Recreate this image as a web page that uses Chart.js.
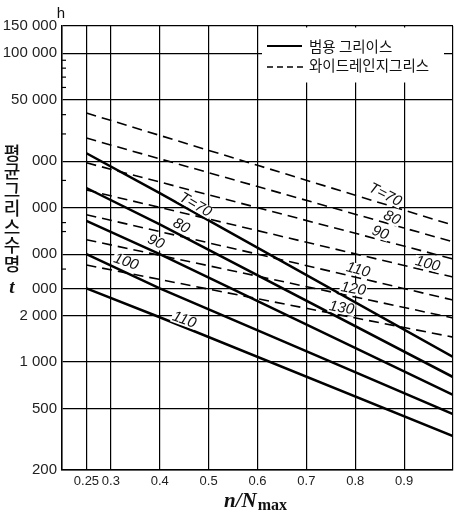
<!DOCTYPE html>
<html><head><meta charset="utf-8">
<script src="https://cdn.jsdelivr.net/npm/chart.js@4/dist/chart.umd.min.js"></script>
<style>html,body{margin:0;padding:0;background:#fff}canvas{display:block}</style>
</head><body>
<canvas id="c" width="457" height="513"></canvas>
<script>
// ---- axes ----
const xTicks = [0.25, 0.3, 0.4, 0.5, 0.6, 0.7, 0.8, 0.9, 1.0];
const xTickLabels = ['0.25', '0.3', '0.4', '0.5', '0.6', '0.7', '0.8', '0.9', ''];
const yTicks = [200, 500, 1000, 2000, 3000, 5000, 10000, 20000, 50000, 100000, 150000];
const yTickLabels = ['200', '500', '1 000', '2 000', '000', '000', '000', '000', '50 000', '100 000', '150 000'];
const yMinorTicks = [4000, 7000, 8000, 15000, 30000, 40000, 60000, 70000, 80000, 90000];

// ---- 범용 그리이스 (solid) ----
const solidX = [0.25, 0.4, 1.0];
const solidT70 = [22500, 12400, 1080];
const solidT80 = [13400, 7800, 800];
const solidT90 = [8200, 5000, 612];
const solidT100 = [5000, 3000, 460];
const solidT110 = [3000, 1950, 332];

// ---- 와이드레인지그리스 (dashed) ----
const dashedX = [0.25, 0.6, 1.0];
const dashedT70 = [41000, 18800, 7700];
const dashedT80 = [28200, 13700, 6000];
const dashedT90 = [19500, 10000, 4650];
const dashedT100 = [13000, 7100, 3550];
const dashedT110 = [9000, 5000, 2520];
const dashedT120 = [6200, 3600, 1930];
const dashedT130 = [4250, 2570, 1450];

// ---- curve labels (text, x value, y value, angle deg) ----
const solidLabelText = ['T=70', '80', '90', '100', '110'];
const solidLabelAt = [[0.473, 10400, 30], [0.444, 7600, 28], [0.392, 5990, 25], [0.331, 4445, 20], [0.450, 1872, 20]];
const dashedLabelText = ['T=70', '80', '90', '100', '110', '120', '130'];
const dashedLabelAt = [[0.861, 12070, 27], [0.875, 8565, 25], [0.851, 6850, 20], [0.948, 4315, 15], [0.806, 3945, 15], [0.796, 2972, 10], [0.772, 2239, 10]];

const legendSolid = '범용 그리이스';
const legendDashed = '와이드레인지그리스';

function pts(xs, ys) { return xs.map((x, i) => ({x: x, y: ys[i]})); }

const solidSeries = [solidT70, solidT80, solidT90, solidT100, solidT110];
const dashedSeries = [dashedT70, dashedT80, dashedT90, dashedT100, dashedT110, dashedT120, dashedT130];

const datasets = [];
solidSeries.forEach((s, i) => datasets.push({
  label: legendSolid + ' ' + solidLabelText[i], data: pts(solidX, s),
  borderColor: '#000', borderWidth: 2.5, pointRadius: 0, fill: false, tension: 0
}));
dashedSeries.forEach((s, i) => datasets.push({
  label: legendDashed + ' ' + dashedLabelText[i], data: pts(dashedX, s),
  borderColor: '#000', borderWidth: 1.6, borderDash: [10, 6], pointRadius: 0, fill: false, tension: 0
}));

const tickFont = '"Liberation Sans", Arial, sans-serif';

const decor = {
  id: 'decor',
  afterDatasetsDraw(chart) {
    const ctx = chart.ctx, xs = chart.scales.x, ys = chart.scales.y;
    ctx.save();
    ctx.strokeStyle = '#000'; ctx.lineWidth = 1.2;
    yMinorTicks.forEach(v => {
      const py = ys.getPixelForValue(v);
      ctx.beginPath(); ctx.moveTo(xs.left, py); ctx.lineTo(xs.left + 4, py); ctx.stroke();
    });
    ctx.restore();
    const drawLab = (txt, at) => {
      const px = xs.getPixelForValue(at[0]), py = ys.getPixelForValue(at[1]);
      ctx.save();
      ctx.translate(px, py);
      ctx.rotate(at[2] * Math.PI / 180);
      ctx.font = 'italic 15px "Liberation Sans", Arial, sans-serif';
      ctx.textAlign = 'center'; ctx.textBaseline = 'middle';
      const w = ctx.measureText(txt).width;
      ctx.fillStyle = '#fff';
      ctx.fillRect(-w / 2 - 1, -6, w + 2, 12);
      ctx.fillStyle = '#111';
      ctx.fillText(txt, 0, 0);
      ctx.restore();
    };
    solidLabelText.forEach((t, i) => drawLab(t, solidLabelAt[i]));
    dashedLabelText.forEach((t, i) => drawLab(t, dashedLabelAt[i]));
  },
  afterDraw(chart) {
    const ctx = chart.ctx, a = chart.chartArea;
    ctx.save();
    ctx.fillStyle = '#fff';
    ctx.fillRect(262, a.top + 1.5, 182, 55);
    ctx.strokeStyle = '#000';
    ctx.lineWidth = 2; ctx.setLineDash([]);
    ctx.beginPath(); ctx.moveTo(267, 46); ctx.lineTo(302, 46); ctx.stroke();
    ctx.lineWidth = 1.5; ctx.setLineDash([6, 4]);
    ctx.beginPath(); ctx.moveTo(267, 67); ctx.lineTo(303, 67); ctx.stroke();
    ctx.setLineDash([]);
    ctx.fillStyle = '#111';
    ctx.font = '14.5px "Noto Sans CJK KR", sans-serif';
    ctx.textAlign = 'left'; ctx.textBaseline = 'middle';
    ctx.fillText(legendSolid, 309, 46);
    ctx.fillText(legendDashed, 309, 65);
    ctx.font = '15px "Liberation Sans", Arial, sans-serif';
    ctx.textAlign = 'center';
    ctx.fillText('h', 61, 14);
    ctx.font = '500 18px "Noto Sans CJK KR", sans-serif';
    const yt = '평균그리스수명';
    for (let i = 0; i < yt.length; i++) ctx.fillText(yt[i], 12, 153 + i * 18.5);
    ctx.font = 'italic bold 19px "Liberation Serif", serif';
    ctx.fillText('t', 12, 288);
    ctx.textAlign = 'left'; ctx.textBaseline = 'alphabetic';
    ctx.font = 'italic bold 21px "Liberation Serif", serif';
    const main = 'n/N';
    ctx.fillText(main, 224, 507);
    const mw = ctx.measureText(main).width;
    ctx.font = 'bold 16px "Liberation Serif", serif';
    ctx.fillText('max', 224 + mw + 1, 510);
    ctx.restore();
  }
};

new Chart(document.getElementById('c'), {
  type: 'line',
  data: { datasets: datasets },
  options: {
    responsive: false, animation: false, devicePixelRatio: 1,
    layout: { padding: { top: 26, right: 1, left: 0, bottom: 0 } },
    plugins: { legend: { display: false }, tooltip: { enabled: false } },
    scales: {
      x: {
        type: 'linear', min: 0.2, max: 1.0,
        afterBuildTicks: s => { s.ticks = xTicks.map(v => ({ value: v })); },
        afterFit: s => { s.height = 43; },
        ticks: { autoSkip: false, maxRotation: 0, padding: 4, color: '#222',
          font: { family: tickFont, size: 13 },
          callback: (v, i) => xTickLabels[i] },
        grid: { color: '#000', lineWidth: 1.2, drawTicks: false },
        border: { color: '#000', width: 1.6 }
      },
      y: {
        type: 'logarithmic', min: 200, max: 150000,
        afterBuildTicks: s => { s.ticks = yTicks.map(v => ({ value: v })); },
        afterFit: s => { s.width = 62; },
        ticks: { autoSkip: false, padding: 5, color: '#222',
          font: { family: tickFont, size: 15 },
          callback: (v, i) => yTickLabels[i] },
        grid: { color: '#000', lineWidth: 1.2, drawTicks: false },
        border: { color: '#000', width: 1.6 }
      }
    }
  },
  plugins: [decor]
});
</script>
</body></html>
